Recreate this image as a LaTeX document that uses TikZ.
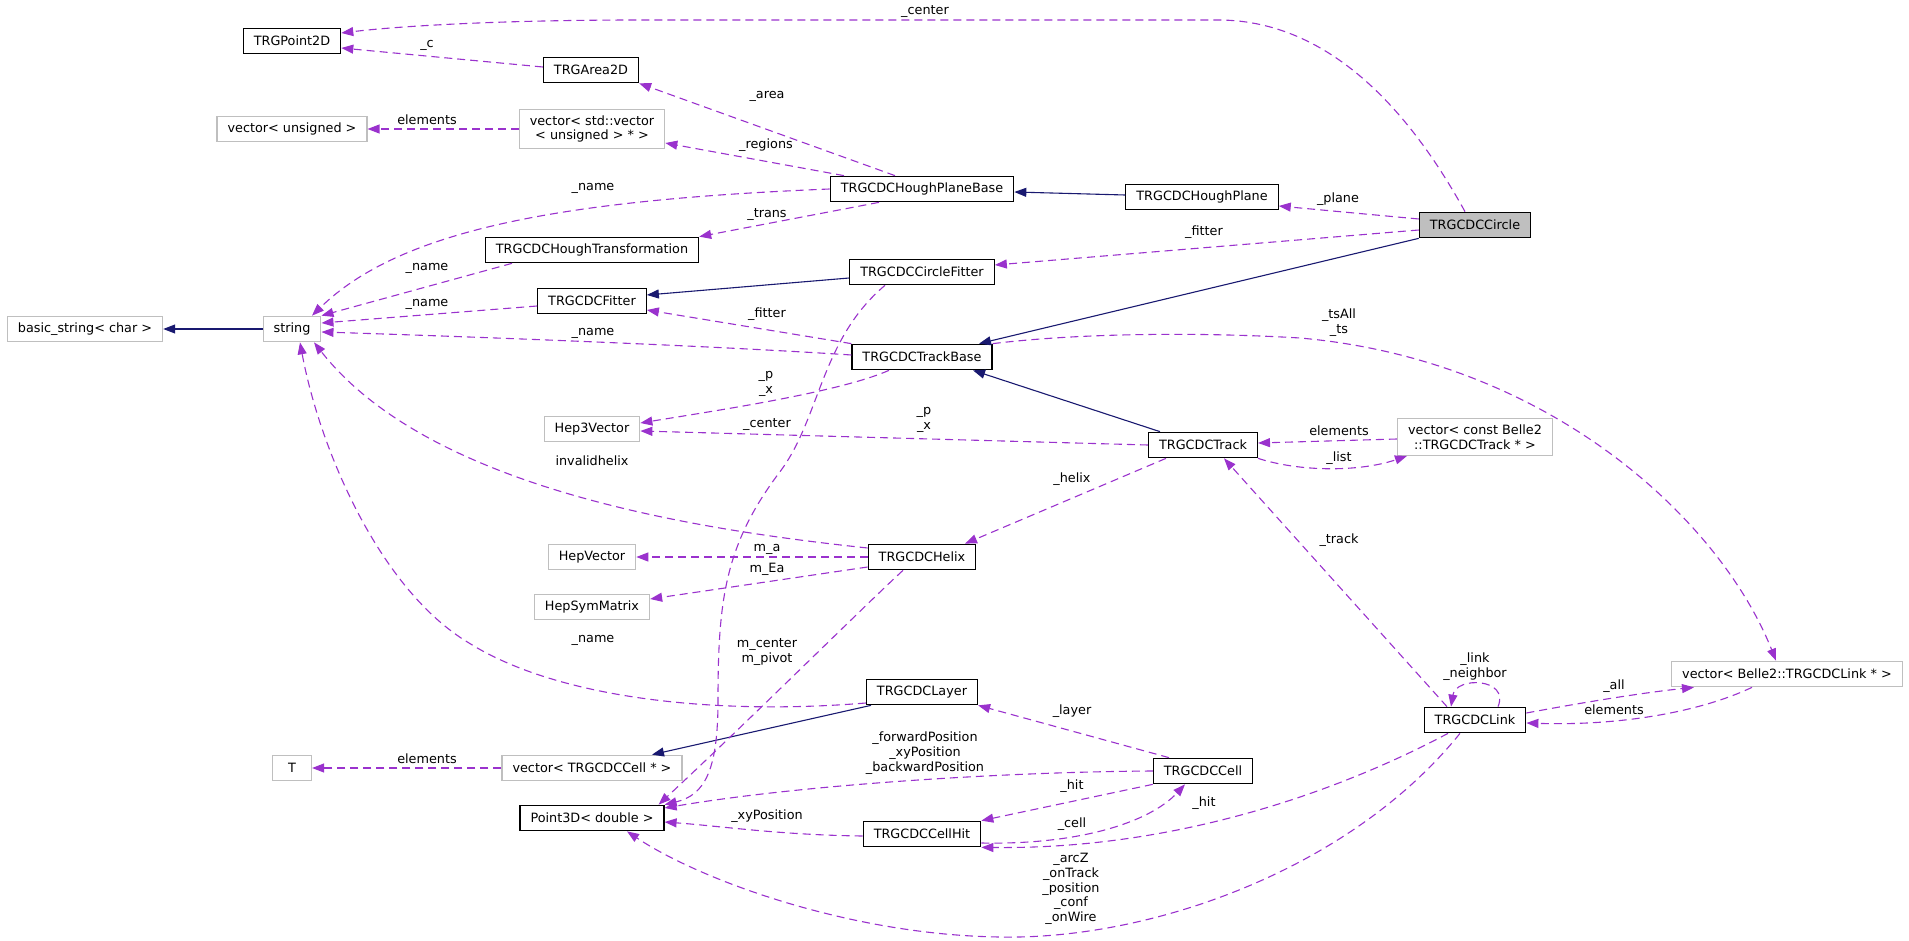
\documentclass[tikz,border=0pt]{standalone}
\usepackage{fontspec}
\setmainfont{DejaVu Sans}
\usepackage{xcolor}
\definecolor{usepurple}{HTML}{9A32CD}
\definecolor{baseblue}{HTML}{191970}
\definecolor{boxgray}{HTML}{BFBFBF}
\usetikzlibrary{arrows.meta}

\begin{document}
\begin{tikzpicture}[x=1pt,y=-1pt,
  font=\fontsize{12.8}{14.8}\selectfont,
  cls/.style={draw=black, line width=1.2pt, fill=white, minimum height=25.5pt,
    inner xsep=10.5pt, inner ysep=6pt, align=center},
  ext/.style={cls, draw=boxgray},
  focus/.style={cls, fill=boxgray},
  uses/.style={draw=usepurple, line width=1.1pt, dash pattern=on 8pt off 5pt,
    -{Triangle[length=12pt,width=9pt]}},
  derives/.style={draw=baseblue, line width=1.1pt, -{Triangle[length=12pt,width=9pt]}},
  lbl/.style={inner sep=0pt, align=center, text=black}]
  % Canvas
  \useasboundingbox (0,0) rectangle (1909,941);

  % Classes
  \node[cls] (point2d) at (292,41) {TRGPoint2D};
  \node[cls] (area2d) at (591,70) {TRGArea2D};
  \node[ext] (vecuns) at (292,129) {vector< unsigned >};
  \node[ext] (vecvec) at (592,129) {vector< std::vector\\< unsigned > * >};
  \node[cls] (hpbase) at (922,189) {TRGCDCHoughPlaneBase};
  \node[cls] (hplane) at (1202,197) {TRGCDCHoughPlane};
  \node[focus] (circle) at (1475,225) {TRGCDCCircle};
  \node[cls] (htrans) at (592,250) {TRGCDCHoughTransformation};
  \node[cls] (fitter) at (592,301) {TRGCDCFitter};
  \node[cls] (cfitter) at (922,272) {TRGCDCCircleFitter};
  \node[ext] (bstring) at (85,329) {basic\_string< char >};
  \node[ext] (string) at (292,329) {string};
  \node[cls] (tbase) at (922,357) {TRGCDCTrackBase};
  \node[ext] (hep3) at (592,429) {Hep3Vector};
  \node[cls] (track) at (1203,445) {TRGCDCTrack};
  \node[ext] (vectrk) at (1475,437) {vector< const Belle2\\::TRGCDCTrack * >};
  \node[ext] (hepvec) at (592,557) {HepVector};
  \node[ext] (hepsym) at (592,607) {HepSymMatrix};
  \node[cls] (helix) at (922,557) {TRGCDCHelix};
  \node[cls] (layer) at (922,692) {TRGCDCLayer};
  \node[ext, minimum width=39pt] (tparam) at (292,768) {T};
  \node[ext] (veccell) at (592,768) {vector< TRGCDCCell * >};
  \node[cls] (point3d) at (592,818) {Point3D< double >};
  \node[cls] (cell) at (1203,771) {TRGCDCCell};
  \node[cls] (cellhit) at (922,834) {TRGCDCCellHit};
  \node[cls] (link) at (1475,720) {TRGCDCLink};
  \node[ext] (veclink) at (1787,674) {vector< Belle2::TRGCDCLink * >};

  % Inheritance
  \draw[derives] (string.west) -- (bstring.east);
  \draw[derives] ([yshift=2pt]hplane.west) -- ([yshift=-3pt]hpbase.east);
  \draw[derives] (circle.south west) -- ([xshift=57pt]tbase.north);
  \draw[derives] ([yshift=-6pt]cfitter.west) -- ([yshift=6pt]fitter.east);
  \draw[derives] ([xshift=-43pt]track.north) -- ([xshift=51pt]tbase.south);
  \draw[derives] ([xshift=-51pt]layer.south) -- ([xshift=60pt]veccell.north);

  % Members
  \draw[uses] ([xshift=-10pt]circle.north) .. controls (1420,130) and (1340,20) .. (1218,20)
    -- (640,20) .. controls (500,20) and (400,26) .. ([yshift=8pt]point2d.east)
    node[lbl] at (925,12) {\_center};
  \draw[uses] ([yshift=3pt]area2d.west) -- ([yshift=-7pt]point2d.east)
    node[lbl] at (427,45) {\_c};
  \draw[uses] ([xshift=-27pt]hpbase.north) -- (area2d.south east)
    node[lbl] at (767,96) {\_area};
  \draw[uses] ([xshift=-78pt]hpbase.north) -- ([yshift=-14pt]vecvec.east)
    node[lbl] at (766,145) {\_regions};
  \draw[uses] (vecvec.west) -- (vecuns.east)
    node[lbl] at (427,120) {elements};
  \draw[uses] (hpbase.west) .. controls (560,200) and (400,230) .. ([xshift=20pt]string.north)
    node[lbl] at (593,188) {\_name};
  \draw[uses] ([xshift=-43pt]hpbase.south) -- (htrans.north east)
    node[lbl] at (767,215) {\_trans};
  \draw[uses] ([yshift=6pt]circle.west) -- ([yshift=-9pt]hplane.east)
    node[lbl] at (1338,199) {\_plane};
  \draw[uses] ([yshift=-5pt]circle.west) -- ([yshift=7pt]cfitter.east)
    node[lbl] at (1204,232) {\_fitter};
  \draw[uses] ([xshift=-80pt]htrans.south) -- (string.north east)
    node[lbl] at (427,268) {\_name};
  \draw[uses] ([yshift=-5pt]fitter.west) -- ([yshift=6pt]string.east)
    node[lbl] at (427,304) {\_name};
  \draw[uses] ([xshift=-37pt]cfitter.south) .. controls (820,340) and (820,420) .. (779,473)
    .. controls (725,545) and (718,600) .. (718,700)
    .. controls (718,770) and (705,795) .. (point3d.north east)
    node[lbl] at (767,425) {\_center};
  \draw[uses] (tbase.north west) -- ([yshift=-9pt]fitter.east)
    node[lbl] at (767,314) {\_fitter};
  \draw[uses] ([yshift=2pt]tbase.west) .. controls (700,345) and (450,336) .. ([yshift=-3pt]string.east)
    node[lbl] at (593,333) {\_name};
  \draw[uses] ([xshift=-33pt]tbase.south) .. controls (840,392) and (720,410) .. ([yshift=6pt]hep3.east)
    node[lbl] at (766,384) {\_p\\\_x};
  \draw[uses] (track.west) -- ([yshift=-2pt]hep3.east)
    node[lbl] at (924,420) {\_p\\\_x};
  \draw[uses] ([yshift=-2pt]vectrk.west) -- ([yshift=2pt]track.east)
    node[lbl] at (1339,431) {elements};
  \draw[uses] (track.south east) .. controls (1300,472) and (1360,472) .. ([xshift=10pt]vectrk.south west)
    node[lbl] at (1339,458) {\_list};
  \draw[uses] (tbase.north east) .. controls (1080,333) and (1200,332) .. (1300,338)
    .. controls (1550,360) and (1720,520) .. ([xshift=-11pt]veclink.north)
    node[lbl] at (1339,323) {\_tsAll\\\_ts};
  \draw[uses] ([xshift=-37pt]track.south) -- ([xshift=43pt]helix.north)
    node[lbl] at (1072,479) {\_helix};
  \draw[uses] ([yshift=9pt]helix.west) .. controls (700,530) and (430,490) .. ([xshift=22pt]string.south)
    node[lbl] at (592,461) {invalidhelix};
  \draw[uses] (helix.west) -- (hepvec.east)
    node[lbl] at (767,549) {m\_a};
  \draw[uses] ([yshift=-10pt]helix.west) -- ([yshift=8pt]hepsym.east)
    node[lbl] at (767,569) {m\_Ea};
  \draw[uses] ([xshift=-19pt]helix.south) .. controls (860,610) and (760,710) .. ([xshift=-6pt]point3d.north east)
    node[lbl] at (767,652) {m\_center\\m\_pivot};
  \draw[uses] ([yshift=-11pt]layer.west) .. controls (720,715) and (560,700) .. (469,643)
    .. controls (380,590) and (320,450) .. ([xshift=8pt]string.south)
    node[lbl] at (593,640) {\_name};
  \draw[uses] (veccell.west) -- (tparam.east)
    node[lbl] at (427,759) {elements};
  \draw[uses] ([xshift=-34pt]cell.north) -- (layer.south east)
    node[lbl] at (1072,711) {\_layer};
  \draw[uses] (cell.west) .. controls (1000,772) and (800,785) .. ([yshift=10pt]point3d.east)
    node[lbl] at (925,753) {\_forwardPosition\\\_xyPosition\\\_backwardPosition};
  \draw[uses] (cell.south west) -- (cellhit.north east)
    node[lbl] at (1072,786) {\_hit};
  \draw[uses] ([yshift=-9pt]cellhit.east) .. controls (1080,845) and (1150,822) .. ([xshift=-18pt]cell.south)
    node[lbl] at (1072,824) {\_cell};
  \draw[uses] ([yshift=-2pt]cellhit.west) .. controls (780,835) and (720,826) .. ([yshift=-4pt]point3d.east)
    node[lbl] at (767,816) {\_xyPosition};
  \draw[uses] ([xshift=-27pt]link.south) .. controls (1370,775) and (1200,850) .. (cellhit.south east)
    node[lbl] at (1204,803) {\_hit};
  \draw[uses] ([xshift=-15pt]link.south) .. controls (1350,870) and (1150,940) .. (1000,937)
    .. controls (850,935) and (700,880) .. ([xshift=35pt]point3d.south)
    node[lbl] at (1071,889) {\_arcZ\\\_onTrack\\\_position\\\_conf\\\_onWire};
  \draw[uses] ([xshift=-28pt]link.north) -- ([xshift=21pt]track.south)
    node[lbl] at (1339,540) {\_track};
  \draw[uses] ([xshift=23pt]link.north) .. controls (1510,678) and (1456,676) .. ([xshift=-24pt]link.north)
    node[lbl] at (1475,667) {\_link\\\_neighbor};
  \draw[uses] ([yshift=7pt]link.east) .. controls (1580,703) and (1640,693) .. ([xshift=-93pt]veclink.south)
    node[lbl] at (1614,686) {\_all};
  \draw[uses] ([xshift=-35pt]veclink.south) .. controls (1700,712) and (1620,726) .. ([yshift=-3pt]link.east)
    node[lbl] at (1614,710) {elements};
\end{tikzpicture}
\end{document}
